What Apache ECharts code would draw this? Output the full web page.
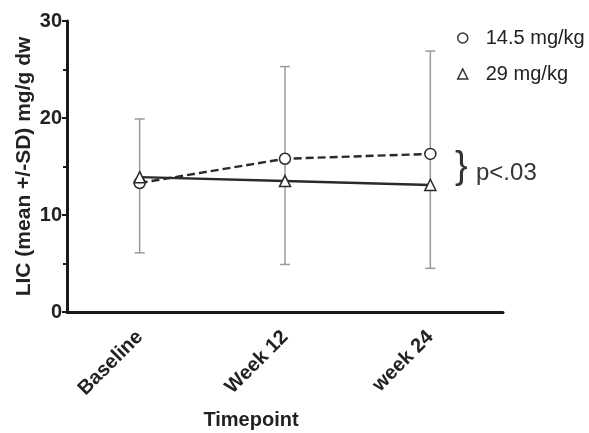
<!DOCTYPE html>
<html>
<head>
<meta charset="utf-8">
<script src="https://cdn.jsdelivr.net/npm/echarts@6/dist/echarts.min.js"></script>
<style>
  html, body { margin: 0; padding: 0; background: #fff; }
  #chart { width: 589px; height: 433px; }
</style>
</head>
<body>
<div id="chart"></div>
<script>
var categories = ['Baseline', 'Week 12', 'week 24']
var dose145 = [13.3, 15.8, 16.3]
var dose29 = [13.9, 13.5, 13.1]
// SD bars as drawn: upper end and lower end per timepoint
var sdHigh = [19.9, 25.3, 26.9]
var sdLow = [6.1, 4.9, 4.5]

var font = 'Arial, "Liberation Sans", sans-serif'
var axisColor = '#1a1a1a'

var chart = echarts.init(document.getElementById('chart'))

var errData = categories.map(function (c, i) {
  return [i, sdLow[i], sdHigh[i]]
})

var options = {
  animation: false,
  grid: { left: 67, right: 86, top: 21, bottom: 121, outerBoundsMode: 'none' },
  legend: {
    orient: 'vertical',
    left: 452,
    top: 23,
    itemGap: 16,
    itemWidth: 10,
    itemHeight: 10,
    textStyle: { fontFamily: font, fontSize: 20, color: '#222', padding: [0, 0, 0, 13] },
    data: [
      { name: '14.5 mg/kg', icon: 'circle', itemStyle: { color: '#fff', borderColor: '#333', borderWidth: 1.5 } },
      { name: '29 mg/kg', icon: 'triangle', itemStyle: { color: '#fff', borderColor: '#333', borderWidth: 1.5 } }
    ]
  },
  xAxis: {
    type: 'category',
    data: categories,
    name: 'Timepoint',
    nameLocation: 'middle',
    nameGap: 98,
    nameMoveOverlap: false,
    nameTextStyle: { fontFamily: font, fontSize: 20, fontWeight: 'bold', color: '#222', padding: [0, 68, 0, 0] },
    axisLine: { lineStyle: { color: axisColor, width: 3 } },
    axisTick: { alignWithLabel: true, length: 6, lineStyle: { color: axisColor, width: 2 } },
    axisLabel: { rotate: 45, fontFamily: font, fontSize: 20, fontWeight: 'bold', color: '#222', margin: 22 }
  },
  yAxis: {
    type: 'value',
    min: 0,
    max: 30,
    interval: 10,
    name: 'LIC (mean +/-SD) mg/g dw',
    nameLocation: 'middle',
    nameGap: 32,
    nameMoveOverlap: false,
    nameTextStyle: { fontFamily: font, fontSize: 21, fontWeight: 'bold', color: '#222' },
    axisLine: { show: true, lineStyle: { color: axisColor, width: 3 } },
    axisTick: { show: true, length: 5, lineStyle: { color: axisColor, width: 2 } },
    minorTick: { show: true, splitNumber: 2, length: 4, lineStyle: { color: axisColor, width: 2 } },
    splitLine: { show: false },
    axisLabel: { fontFamily: font, fontSize: 20, fontWeight: 'bold', color: '#222', margin: 5 }
  },
  series: [
    {
      name: 'SD',
      type: 'custom',
      z: 1,
      data: errData,
      renderItem: function (params, api) {
        var x = api.value(0)
        var lo = api.coord([x, api.value(1)])
        var hi = api.coord([x, api.value(2)])
        var cap = 5
        var style = { stroke: '#9a9a9a', lineWidth: 1.5 }
        return {
          type: 'group',
          children: [
            { type: 'line', shape: { x1: lo[0], y1: lo[1], x2: hi[0], y2: hi[1] }, style: style },
            { type: 'line', shape: { x1: hi[0] - cap, y1: hi[1], x2: hi[0] + cap, y2: hi[1] }, style: style },
            { type: 'line', shape: { x1: lo[0] - cap, y1: lo[1], x2: lo[0] + cap, y2: lo[1] }, style: style }
          ]
        }
      }
    },
    {
      name: '14.5 mg/kg',
      type: 'line',
      z: 3,
      data: dose145,
      symbol: 'circle',
      symbolSize: 11,
      itemStyle: { color: '#fff', borderColor: '#2a2a2a', borderWidth: 1.5 },
      lineStyle: { color: '#2a2a2a', width: 2.4, type: [8, 4] }
    },
    {
      name: '29 mg/kg',
      type: 'line',
      z: 3,
      data: dose29,
      symbol: 'triangle',
      symbolSize: 11,
      itemStyle: { color: '#fff', borderColor: '#2a2a2a', borderWidth: 1.5 },
      lineStyle: { color: '#2a2a2a', width: 2.4 }
    }
  ],
  graphic: [
    {
      type: 'text',
      left: 455,
      top: 149,
      style: { text: '}', fontFamily: font, fontSize: 38, fill: '#333' }
    },
    {
      type: 'text',
      left: 476,
      top: 161,
      style: { text: 'p<.03', fontFamily: font, fontSize: 24, fill: '#333' }
    }
  ]
}

chart.setOption(options)
</script>
</body>
</html>
